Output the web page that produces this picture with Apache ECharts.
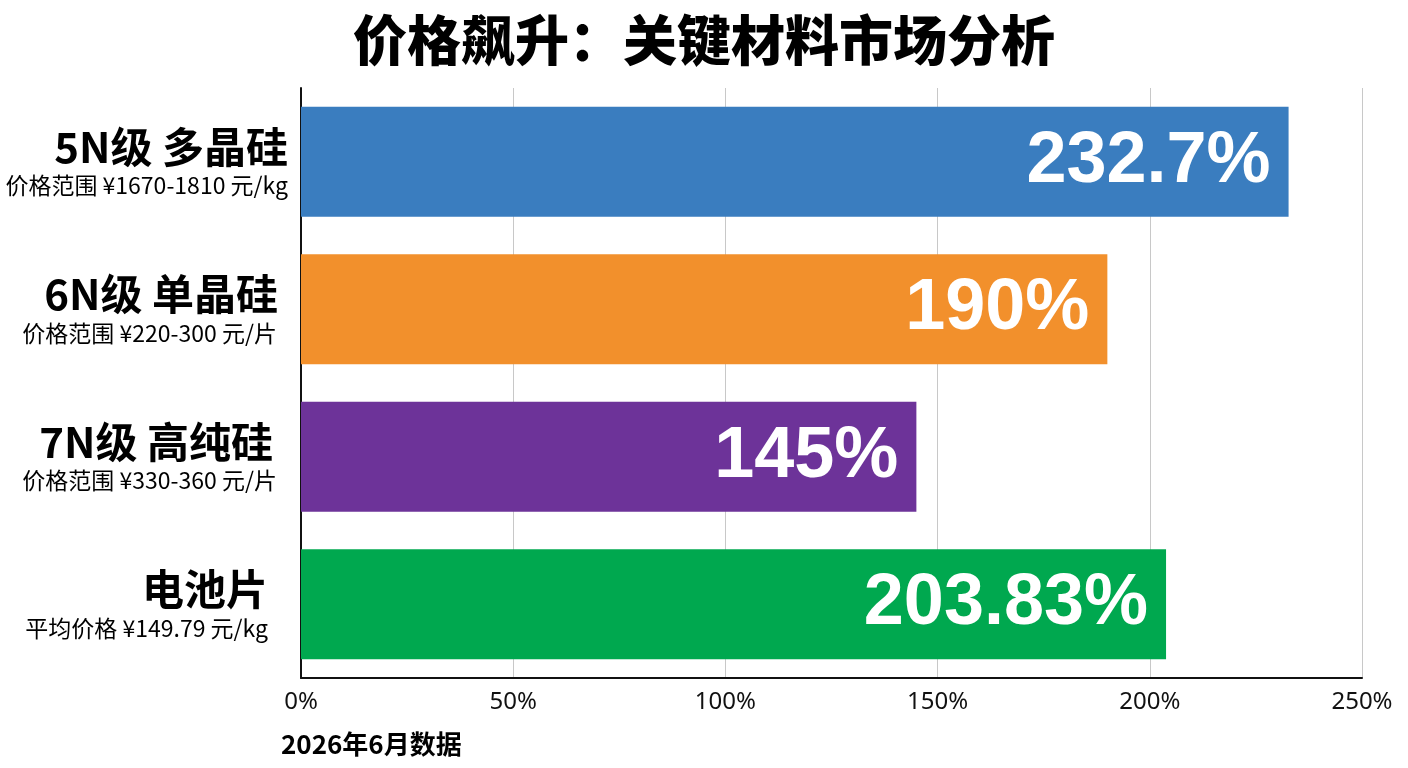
<!DOCTYPE html>
<html>
<head>
<meta charset="utf-8">
<script src="https://cdn.jsdelivr.net/npm/echarts@6/dist/echarts.min.js"></script>
<style>
html,body{margin:0;padding:0;background:#fff;}
#c{width:1408px;height:768px;}
</style>
</head>
<body>
<div id="c"></div>
<script>
const titleText = '价格飙升：关键材料市场分析';
const categories = ['5N级 多晶硅', '6N级 单晶硅', '7N级 高纯硅', '电池片'];
const subLabels = ['价格范围 ¥1670-1810 元/kg', '价格范围 ¥220-300 元/片', '价格范围 ¥330-360 元/片', '平均价格 ¥149.79 元/kg'];
const values = [232.7, 190, 145, 203.83];
const valueLabels = ['232.7%', '190%', '145%', '203.83%'];
const xTicks = [0, 50, 100, 150, 200, 250];
const footnote = '2026年6月数据';

const palette = ['#3a7dbf', '#f2902c', '#6d3399', '#00a84f'];
const cjk = '"Noto Sans CJK SC", "Noto Sans", sans-serif';
// per-row right indent of the category label lines (layout only)
const bigPad = [0, 10, 15, 20];
const subPad = [0, 11, 11, 20];

const rich = {};
bigPad.forEach((p, i) => {
  rich['a' + i] = { fontFamily: cjk, fontSize: 42, fontWeight: 'bold', color: '#000', lineHeight: 48, align: 'right', padding: [0, p, 0, 0] };
  rich['b' + i] = { fontFamily: cjk, fontSize: 23, color: '#000', lineHeight: 30, align: 'right', padding: [0, subPad[i], 0, 0] };
});

const chart = echarts.init(document.getElementById('c'));
chart.setOption({
  backgroundColor: '#ffffff',
  animation: false,
  title: {
    text: titleText,
    left: 'center',
    top: 8,
    textStyle: { fontFamily: cjk, fontSize: 54, fontWeight: 900, color: '#000' }
  },
  grid: { left: 301, right: 46, top: 88, bottom: 90, containLabel: false },
  xAxis: {
    type: 'value',
    min: xTicks[0],
    max: xTicks[xTicks.length - 1],
    interval: xTicks[1] - xTicks[0],
    axisLine: { show: true, lineStyle: { color: '#111', width: 2 } },
    axisTick: { show: false },
    splitLine: { show: true, lineStyle: { color: '#c8c8c8', width: 1 } },
    axisLabel: {
      margin: 12,
      formatter: v => v + '%',
      fontFamily: '"Noto Sans", sans-serif',
      fontSize: 24,
      color: '#111'
    }
  },
  yAxis: {
    type: 'category',
    inverse: true,
    data: categories,
    axisLine: { show: true, lineStyle: { color: '#111', width: 2 } },
    axisTick: { show: false },
    splitLine: { show: false },
    axisLabel: {
      margin: 13,
      align: 'right',
      formatter: (v, i) => '{a' + i + '|' + v + '}\n{b' + i + '|' + subLabels[i] + '}',
      rich: rich
    }
  },
  series: [{
    type: 'bar',
    data: values.map((v, i) => ({ value: v, itemStyle: { color: palette[i] } })),
    barWidth: 110,
    label: {
      show: true,
      position: 'insideRight',
      distance: 18,
      formatter: p => valueLabels[p.dataIndex],
      fontFamily: '"Liberation Sans", Arial, sans-serif',
      fontWeight: 'bold',
      fontSize: 72,
      color: '#ffffff'
    }
  }],
  graphic: [{
    type: 'text',
    left: 281,
    top: 731,
    style: { text: footnote, font: 'bold 26px ' + cjk, fill: '#000' }
  }]
});
</script>
</body>
</html>
